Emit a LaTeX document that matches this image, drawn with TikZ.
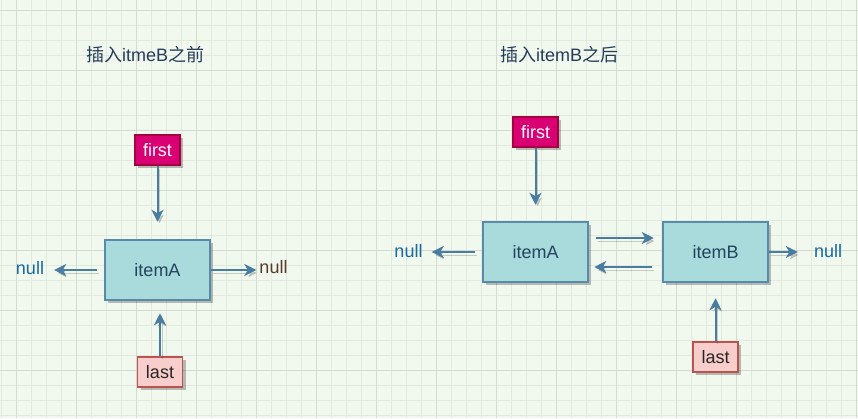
\documentclass[tikz,border=0pt]{standalone}
\usepackage{fontspec}
\setmainfont{Liberation Sans}
\newfontfamily\cjk{Noto Sans CJK SC}
\usepackage{xcolor}
\definecolor{gridbg}{RGB}{241,248,238}
\definecolor{gridminor}{RGB}{226,234,223}
\definecolor{gridmajor}{RGB}{212,217,210}
\definecolor{itemfill}{RGB}{169,218,220}
\definecolor{itemline}{RGB}{88,139,170}
\definecolor{itemtext}{RGB}{35,68,93}
\definecolor{firstfill}{RGB}{216,0,115}
\definecolor{firstline}{RGB}{165,0,64}
\definecolor{lastfill}{RGB}{248,206,204}
\definecolor{lastline}{RGB}{184,84,80}
\definecolor{lnkcol}{RGB}{72,124,160}
\definecolor{nullblue}{RGB}{22,106,160}
\definecolor{nullbrown}{RGB}{88,62,42}
\definecolor{titlecol}{RGB}{38,60,88}
\usepackage{tikz}
\usetikzlibrary{arrows.meta, positioning, shadows}

\tikzset{
  boxshadow/.style={drop shadow={shadow xshift=3pt, shadow yshift=-3pt, opacity=0.25, fill=black}},
  itembox/.style={draw=itemline, fill=itemfill, line width=2.5pt, minimum width=105pt, minimum height=60pt,
    text=itemtext, font=\fontsize{18}{22}\selectfont, boxshadow},
  ptrfirst/.style={draw=firstline, fill=firstfill, line width=1.5pt, minimum width=45pt, minimum height=30pt,
    inner sep=2pt, text=white, font=\fontsize{18}{22}\selectfont, boxshadow},
  ptrlast/.style={draw=lastline, fill=lastfill, line width=1.5pt, minimum width=45pt, minimum height=30pt,
    inner sep=2pt, text=black!85, font=\fontsize{18}{22}\selectfont, boxshadow},
  nulltxt/.style={inner sep=0pt, text=nullblue, font=\fontsize{18}{22}\selectfont},
  titletxt/.style={inner sep=0pt, text=titlecol, font=\fontsize{18}{22}\selectfont},
  lnk/.style={draw=lnkcol, line width=2pt, -{Stealth[length=12pt, width=12pt, inset=3.5pt]},
    preaction={draw=black, opacity=0.18, transform canvas={shift={(2pt,-3pt)}}}}
}

\begin{document}
\begin{tikzpicture}[x=1pt, y=-1pt]
  \useasboundingbox (0,0) rectangle (858,418);
  \fill[gridbg] (0,0) rectangle (858,418);
  \foreach \gx in {0,...,57} \draw[gridminor, line width=1pt] (1.7+15*\gx,0) -- (1.7+15*\gx,418);
  \foreach \gy in {0,...,27} \draw[gridminor, line width=1pt] (0,10+15*\gy) -- (858,10+15*\gy);
  \foreach \gx in {0,...,14} \draw[gridmajor, line width=1pt] (16.7+60*\gx,0) -- (16.7+60*\gx,418);
  \foreach \gy in {0,...,6} \draw[gridmajor, line width=1pt] (0,10+60*\gy) -- (858,10+60*\gy);

  \node[titletxt, anchor=west] (titleL) at (86,55) {{\cjk 插入}itmeB{\cjk 之前}};
  \node[ptrfirst] (firstA) at (157.5,150) {first};
  \node[itembox] (itemA) at (157.5,270) {itemA};
  \node[ptrlast] (lastA) at (160,372) {last};
  \node[nulltxt] (nullAL) at (30,268) {null};
  \node[nulltxt, text=nullbrown] (nullAR) at (273.5,267) {null};

  \draw[lnk, shorten >=17pt] (firstA.south) -- (itemA.north);
  \draw[lnk, shorten >=12pt] (lastA.north) -- (lastA.north |- itemA.south);
  \draw[lnk, shorten <=7pt, shorten >=10pt] (itemA.west) -- (itemA.west -| nullAL.east);
  \draw[lnk, shorten >=3pt] (itemA.east) -- (itemA.east -| nullAR.west);

  \node[titletxt, anchor=west] (titleR) at (500,55) {{\cjk 插入}itemB{\cjk 之后}};
  \node[ptrfirst] (firstB) at (535.5,132) {first};
  \node[itembox] (itemA2) at (535.5,252) {itemA};
  \node[itembox] (itemB) at (715.5,252) {itemB};
  \node[ptrlast] (lastB) at (715.5,357) {last};
  \node[nulltxt] (nullBL) at (408.5,251) {null};
  \node[nulltxt] (nullBR) at (828,251) {null};

  \draw[lnk, shorten >=16pt] (firstB.south) -- (itemA2.north);
  \draw[lnk, shorten >=15pt] (lastB.north) -- (itemB.south);
  \draw[lnk, shorten <=7pt, shorten >=8pt] ([yshift=14pt]itemA2.east) -- ([yshift=14pt]itemB.west);
  \draw[lnk, shorten <=10pt, shorten >=5pt] ([yshift=-15pt]itemB.west) -- ([yshift=-15pt]itemA2.east);
  \draw[lnk, shorten <=7pt, shorten >=9pt] (itemA2.west) -- (itemA2.west -| nullBL.east);
  \draw[lnk, shorten >=16pt] (itemB.east) -- (itemB.east -| nullBR.west);
\end{tikzpicture}
\end{document}
